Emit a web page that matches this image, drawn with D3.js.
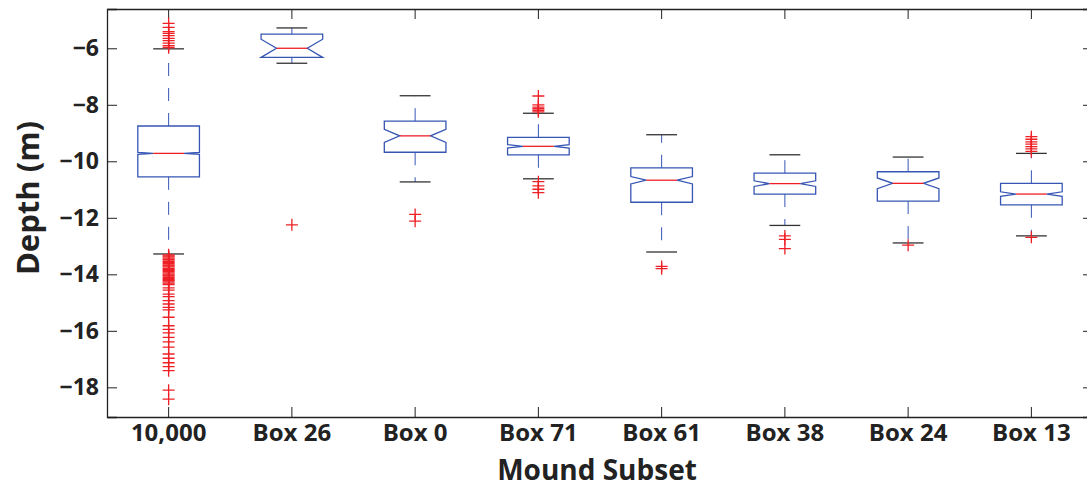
<!DOCTYPE html>
<html>
<head>
<meta charset="utf-8">
<script src="https://cdn.jsdelivr.net/npm/d3@7"></script>
<style>
  body { margin: 0; background: #fff; }
  svg { display: block; font-family: "Open Sans", "Liberation Sans", sans-serif; }
  .axis path, .axis line { stroke: #222; }
  .axis text { fill: #222; font-weight: bold; font-family: "Open Sans", "Liberation Sans", sans-serif; }
</style>
</head>
<body>
<svg width="1087" height="488"></svg>
<script>
// Data
var categories = ['10,000', 'Box 26', 'Box 0', 'Box 71', 'Box 61', 'Box 38', 'Box 24', 'Box 13'];
var upperWhisker = [-6.02, -5.28, -7.68, -8.30, -9.06, -9.77, -9.85, -9.72];
var q3 = [-8.75, -5.50, -8.58, -9.15, -10.23, -10.42, -10.37, -10.78];
var medians = [-9.72, -6.00, -9.10, -9.47, -10.67, -10.79, -10.78, -11.16];
var q1 = [-10.55, -6.32, -9.68, -9.77, -11.45, -11.16, -11.41, -11.54];
var lowerWhisker = [-13.28, -6.53, -10.73, -10.62, -13.21, -12.27, -12.89, -12.64];
// half height of the notch round the median
var notchHalf = [0.035, 0.32, 0.23, 0.06, 0.13, 0.10, 0.19, 0.08];
var outliers = [
  [-5.12, -5.26, -5.41, -5.47, -5.55, -5.65, -5.73, -5.82, -5.91, -5.98,
   -13.31, -13.35, -13.38, -13.43, -13.47, -13.50, -13.55, -13.58, -13.62, -13.67,
   -13.70, -13.74, -13.79, -13.83, -13.86, -13.90, -13.95, -13.99, -14.03, -14.06,
   -14.11, -14.15, -14.19, -14.22, -14.27, -14.31, -14.36, -14.48, -14.56, -14.70,
   -14.79, -14.93, -15.05, -15.17, -15.26, -15.52, -15.82, -15.95, -16.07, -16.23,
   -16.39, -16.58, -16.82, -16.97, -17.13, -17.27, -17.41, -18.10, -18.42],
  [-12.25],
  [-11.88, -12.12],
  [-7.69, -8.00, -8.08, -8.14, -8.20, -8.25, -10.72, -10.87, -10.99, -11.11],
  [-13.72, -13.80],
  [-12.64, -12.76, -13.09],
  [-12.97],
  [-9.13, -9.22, -9.31, -9.39, -9.48, -9.56, -9.65, -12.69]
];
var yTicks = [-18, -16, -14, -12, -10, -8, -6];

var svg = d3.select('svg');
var padding = {t: 9, l: 107, r: -6, b: 71};
var width = +svg.attr('width') - padding.l - padding.r;
var height = +svg.attr('height') - padding.t - padding.b;

var blue = '#3656b4', red = '#ee2026', capColor = '#333';

var chartG = svg.append('g')
  .attr('transform', 'translate(' + [padding.l, padding.t] + ')');

var xScale = d3.scaleBand().domain(categories).range([0, width])
  .paddingInner(0.5).paddingOuter(0.25);
var yScale = d3.scaleLinear().domain([-19.05, -4.61]).range([height, 0]);

var boxes = categories.map(function (c, i) {
  return {name: c, hi: upperWhisker[i], q3: q3[i], med: medians[i], q1: q1[i],
          lo: lowerWhisker[i], notch: notchHalf[i], out: outliers[i]};
});

// axes
chartG.append('g').attr('class', 'axis')
  .call(d3.axisLeft(yScale).tickValues(yTicks).tickSize(-10).tickPadding(8))
  .selectAll('text').style('font-size', '23px');
chartG.append('g').attr('class', 'axis')
  .attr('transform', 'translate(' + width + ',0)')
  .call(d3.axisRight(yScale).tickValues(yTicks).tickSize(-10).tickFormat(''));
chartG.append('g').attr('class', 'axis')
  .attr('transform', 'translate(0,' + height + ')')
  .call(d3.axisBottom(xScale).tickSize(-10).tickPadding(7).tickSizeOuter(0))
  .selectAll('text').style('font-size', '24px');
chartG.append('g').attr('class', 'axis')
  .call(d3.axisTop(xScale).tickSize(-10).tickFormat('').tickSizeOuter(0));
chartG.selectAll('.axis path').attr('stroke-width', 1.3);

// boxes
var bw = xScale.bandwidth();
var boxG = chartG.selectAll('.box').data(boxes).enter().append('g')
  .attr('class', 'box')
  .attr('transform', function (d) { return 'translate(' + (xScale(d.name) + bw / 2) + ',0)'; });

// whiskers, dashed from the box edge out to the cap
boxG.append('line')
  .attr('x1', 0).attr('x2', 0)
  .attr('y1', function (d) { return yScale(d.q3); })
  .attr('y2', function (d) { return yScale(d.hi); })
  .attr('stroke', blue).attr('stroke-dasharray', '13,12');
boxG.append('line')
  .attr('x1', 0).attr('x2', 0)
  .attr('y1', function (d) { return yScale(d.q1); })
  .attr('y2', function (d) { return yScale(d.lo); })
  .attr('stroke', blue).attr('stroke-dasharray', '13,12');

// caps
['hi', 'lo'].forEach(function (k) {
  boxG.append('line')
    .attr('x1', -bw / 4).attr('x2', bw / 4)
    .attr('y1', function (d) { return yScale(d[k]); })
    .attr('y2', function (d) { return yScale(d[k]); })
    .attr('stroke', capColor).attr('stroke-width', 1.3);
});

// notched box outline
boxG.append('path')
  .attr('fill', 'none').attr('stroke', blue).attr('stroke-width', 1.3)
  .attr('d', function (d) {
    var L = -bw / 2, R = bw / 2, Li = -bw / 4, Ri = bw / 4;
    var pts = [
      [L, yScale(d.q1)], [L, yScale(d.med - d.notch)], [Li, yScale(d.med)],
      [L, yScale(d.med + d.notch)], [L, yScale(d.q3)], [R, yScale(d.q3)],
      [R, yScale(d.med + d.notch)], [Ri, yScale(d.med)], [R, yScale(d.med - d.notch)],
      [R, yScale(d.q1)]
    ];
    return d3.line()(pts) + 'Z';
  });

// median
boxG.append('line')
  .attr('x1', -bw / 4).attr('x2', bw / 4)
  .attr('y1', function (d) { return yScale(d.med); })
  .attr('y2', function (d) { return yScale(d.med); })
  .attr('stroke', red).attr('stroke-width', 1.3);

// outliers as + marks
boxG.selectAll('.out').data(function (d) { return d.out; }).enter().append('path')
  .attr('class', 'out')
  .attr('d', function (v) {
    var y = yScale(v);
    return 'M-6,' + y + 'H6M0,' + (y - 6) + 'V' + (y + 6);
  })
  .attr('stroke', red).attr('stroke-width', 1.3).attr('fill', 'none');

// axis titles
svg.append('text')
  .attr('x', padding.l + width / 2 - 3).attr('y', 480)
  .attr('text-anchor', 'middle')
  .style('font-size', '28px').style('font-weight', 'bold').attr('fill', '#222')
  .text('Mound Subset');
svg.append('text')
  .attr('transform', 'translate(' + [39, 198] + ')rotate(-90)')
  .attr('text-anchor', 'middle')
  .style('font-size', '31px').style('font-weight', 'bold').attr('fill', '#222')
  .text('Depth (m)');
</script>
</body>
</html>
